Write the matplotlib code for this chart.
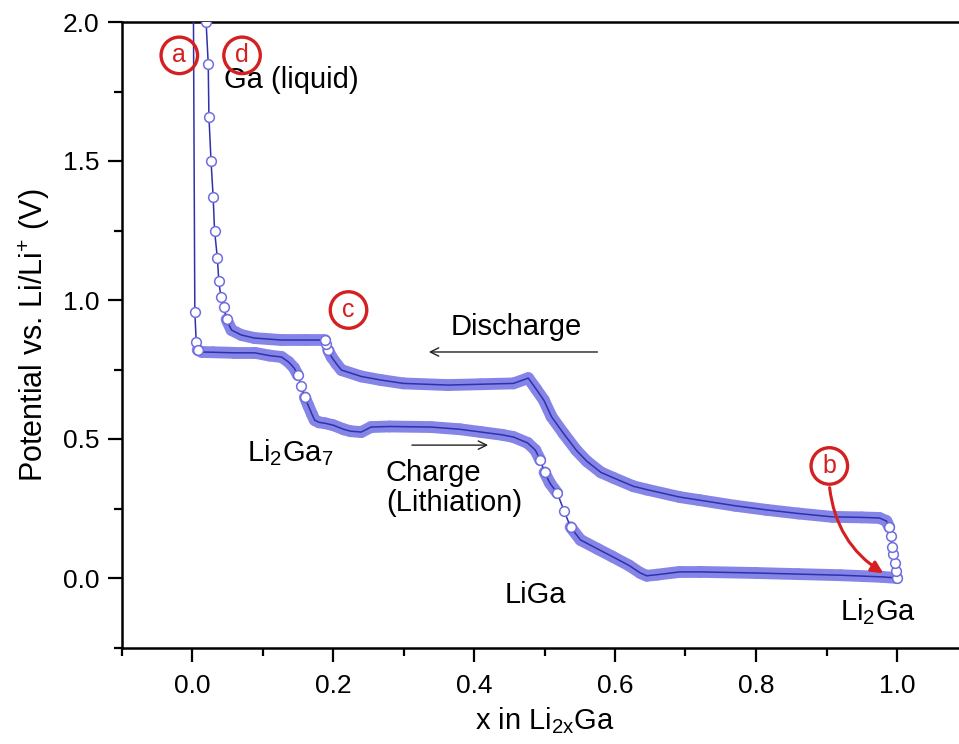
import numpy as np
import matplotlib
matplotlib.use("Agg")
import matplotlib.pyplot as plt
from matplotlib.collections import LineCollection
from matplotlib.ticker import MultipleLocator

plt.rcParams['font.family'] = ['Liberation Sans', 'DejaVu Sans']
plt.rcParams['mathtext.fontset'] = 'custom'
plt.rcParams['mathtext.rm'] = 'Liberation Sans'
plt.rcParams['mathtext.it'] = 'Liberation Sans'

# ---- data ----
charge_x = [0.002, 0.004, 0.006, 0.008, 0.014, 0.03, 0.06, 0.089, 0.11, 0.127, 0.137,
            0.145, 0.150, 0.155, 0.160, 0.165, 0.170, 0.174, 0.180, 0.188, 0.20, 0.215,
            0.225, 0.24, 0.254, 0.28, 0.339, 0.38, 0.41, 0.44, 0.456, 0.476, 0.487,
            0.494, 0.50, 0.508, 0.518, 0.528, 0.537, 0.551, 0.575, 0.597, 0.62, 0.636,
            0.645, 0.66, 0.692, 0.72, 0.80, 0.86, 0.92, 0.979, 1.0]
charge_v = [2.05, 0.957, 0.85, 0.82, 0.813, 0.812, 0.81, 0.81, 0.80, 0.795, 0.777,
            0.755, 0.73, 0.69, 0.65, 0.62, 0.59, 0.568, 0.56, 0.557, 0.55, 0.535,
            0.528, 0.525, 0.543, 0.545, 0.543, 0.535, 0.525, 0.515, 0.507, 0.486, 0.46,
            0.424, 0.38, 0.34, 0.306, 0.24, 0.183, 0.137, 0.105, 0.076, 0.045, 0.018,
            0.008, 0.012, 0.022, 0.022, 0.018, 0.014, 0.01, 0.004, 0.0]

discharge_x = [1.0, 0.999, 0.997, 0.995, 0.993, 0.991, 0.989, 0.985, 0.975, 0.95, 0.908,
               0.86, 0.815, 0.77, 0.72, 0.692, 0.645, 0.626, 0.598, 0.58, 0.56, 0.545,
               0.527, 0.51, 0.499, 0.488, 0.477, 0.456, 0.41, 0.363, 0.30, 0.268, 0.24,
               0.212, 0.205, 0.198, 0.193, 0.19, 0.188, 0.16, 0.127, 0.089, 0.07, 0.056,
               0.049, 0.045, 0.041, 0.038, 0.036, 0.032, 0.030, 0.027, 0.024, 0.023,
               0.020, 0.018]
discharge_v = [0.0, 0.025, 0.054, 0.085, 0.112, 0.15, 0.183, 0.205, 0.216, 0.218, 0.22,
               0.232, 0.245, 0.26, 0.28, 0.291, 0.318, 0.33, 0.36, 0.38, 0.42, 0.46,
               0.52, 0.58, 0.64, 0.68, 0.719, 0.70, 0.697, 0.694, 0.70, 0.712, 0.725,
               0.748, 0.77, 0.795, 0.82, 0.84, 0.856, 0.856, 0.856, 0.863, 0.874, 0.892,
               0.93, 0.975, 1.01, 1.07, 1.15, 1.25, 1.37, 1.50, 1.66, 1.85,
               2.0, 2.1]

x_ticks = [0.0, 0.2, 0.4, 0.6, 0.8, 1.0]
y_ticks = [0.0, 0.5, 1.0, 1.5, 2.0]

# ---- figure ----
fig = plt.figure(figsize=(9.59, 7.44), dpi=100)
ax = fig.add_axes([121.5 / 959, 96.5 / 744, 846 / 959, 625.5 / 744])
ax.set_xlim(-0.1, 1.1)
ax.set_ylim(-0.25, 2.0)

band_color = '#8585e8'
line_color = '#3030ac'
edge_color = '#6e6ee0'


def draw_curve(x, v):
    x = np.asarray(x)
    v = np.asarray(v)
    pts = ax.transData.transform(np.column_stack([x, v]))
    d = np.diff(pts, axis=0)
    ang = np.degrees(np.arctan2(np.abs(d[:, 1]), np.abs(d[:, 0]) + 1e-9))
    segs = np.stack([np.column_stack([x[:-1], v[:-1]]),
                     np.column_stack([x[1:], v[1:]])], axis=1)
    flat = ang < 68
    lc = LineCollection(segs[flat], colors=band_color, linewidths=8.5,
                        capstyle='round', joinstyle='round', zorder=2)
    ax.add_collection(lc)
    ax.plot(x, v, color=line_color, lw=1.1, zorder=3)
    steep_pt = np.zeros(len(x), bool)
    steep_pt[:-1] |= ~flat
    steep_pt[1:] |= ~flat
    ax.plot(x[steep_pt], v[steep_pt], ls='none', marker='o', ms=7,
            mfc='white', mec=edge_color, mew=1.1, zorder=4)


draw_curve(charge_x, charge_v)
draw_curve(discharge_x, discharge_v)

# ---- axes styling ----
ax.set_xticks(x_ticks)
ax.set_yticks(y_ticks)
ax.xaxis.set_minor_locator(MultipleLocator(0.1))
ax.yaxis.set_minor_locator(MultipleLocator(0.25))
ax.set_xticklabels([f'{t:.1f}' for t in x_ticks])
ax.set_yticklabels([f'{t:.1f}' for t in y_ticks])
ax.tick_params(which='both', direction='out', width=1.6, labelsize=19)
ax.tick_params(axis='x', pad=9)
ax.tick_params(axis='y', pad=6)
ax.tick_params(which='major', length=10)
ax.tick_params(which='minor', length=6)
for s in ax.spines.values():
    s.set_linewidth(1.8)
ax.spines['right'].set_visible(False)

ax.set_xlabel(r'x in Li$_{\mathregular{2x}}$Ga', fontsize=21, labelpad=5)
ax.set_ylabel(r'Potential vs. Li/Li$^{\mathregular{+}}$ (V)', fontsize=22, labelpad=8)

# ---- annotations ----
fs = 21
ax.text(0.045, 1.79, 'Ga (liquid)', fontsize=fs, va='center', ha='left')
ax.text(0.367, 0.903, 'Discharge', fontsize=fs, va='center', ha='left')
ax.annotate('', xy=(0.332, 0.813), xytext=(0.579, 0.813),
            arrowprops=dict(arrowstyle='->,head_length=0.6,head_width=0.3',
                            color='#222222', lw=1.0))
ax.text(0.078, 0.45, r'Li$_{\mathregular{2}}$Ga$_{\mathregular{7}}$', fontsize=fs,
        va='center', ha='left')
ax.annotate('', xy=(0.424, 0.478), xytext=(0.308, 0.478),
            arrowprops=dict(arrowstyle='->,head_length=0.6,head_width=0.3',
                            color='#222222', lw=1.0))
ax.text(0.275, 0.325, 'Charge\n(Lithiation)', fontsize=fs, va='center', ha='left',
        linespacing=1.1)
ax.text(0.487, -0.061, 'LiGa', fontsize=fs, va='center', ha='center')
ax.text(0.973, -0.12, r'Li$_{\mathregular{2}}$Ga', fontsize=fs, va='center', ha='center')

red = '#d42020'
for lab, (px, py) in zip(['a', 'd', 'c', 'b'],
                         [(-0.018, 1.88), (0.071, 1.88), (0.222, 0.964), (0.904, 0.403)]):
    ax.text(px, py, lab, fontsize=18, color=red, ha='center', va='center', zorder=6,
            bbox=dict(boxstyle='circle,pad=0.25', fc='none', ec=red, lw=2.4))

ax.annotate('', xy=(0.984, 0.012), xytext=(0.904, 0.335),
            arrowprops=dict(arrowstyle='-|>,head_length=0.7,head_width=0.35',
                            color=red, lw=2.2, connectionstyle='arc3,rad=0.25'),
            zorder=6)

fig.savefig('out.png', dpi=100)
